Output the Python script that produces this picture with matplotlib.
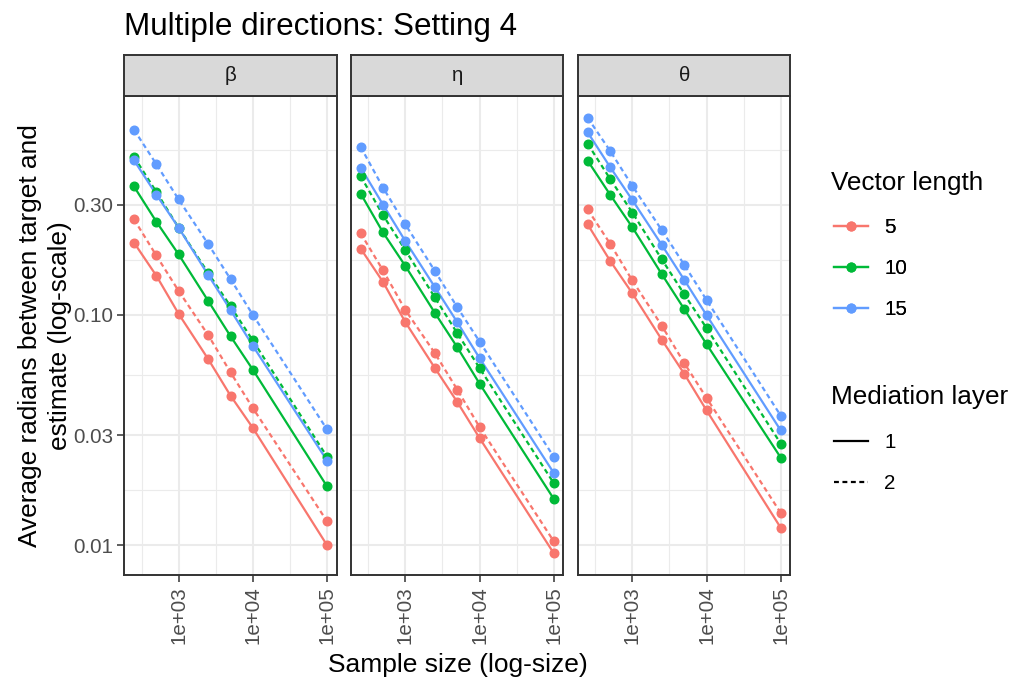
import numpy as np
import matplotlib
matplotlib.use("Agg")
import matplotlib.pyplot as plt
from matplotlib.lines import Line2D
from matplotlib.ticker import FixedLocator, NullFormatter

plt.rcParams['font.family'] = ['Liberation Sans', 'DejaVu Sans']

# ---------------- data ----------------
sample_sizes = [250, 500, 1000, 2500, 5000, 10000, 100000]
facets = ["β", "η", "θ"]
vector_lengths = ["5", "10", "15"]
layers = ["1", "2"]

# facet beta
beta_5_1 = [0.206, 0.148, 0.101, 0.0643, 0.0446, 0.0323, 0.0100]
beta_5_2 = [0.260, 0.181, 0.127, 0.0817, 0.0563, 0.0394, 0.0127]
beta_10_1 = [0.361, 0.254, 0.183, 0.115, 0.0808, 0.0578, 0.0180]
beta_10_2 = [0.486, 0.342, 0.239, 0.152, 0.109, 0.0774, 0.0242]
beta_15_1 = [0.469, 0.333, 0.239, 0.149, 0.105, 0.0734, 0.0233]
beta_15_2 = [0.637, 0.451, 0.317, 0.203, 0.143, 0.100, 0.0318]
# facet eta
eta_5_1 = [0.194, 0.139, 0.0930, 0.0588, 0.0419, 0.0292, 0.00923]
eta_5_2 = [0.226, 0.156, 0.105, 0.0682, 0.0474, 0.0326, 0.0104]
eta_10_1 = [0.336, 0.228, 0.163, 0.102, 0.0724, 0.0503, 0.0159]
eta_10_2 = [0.400, 0.271, 0.191, 0.119, 0.0833, 0.0588, 0.0186]
eta_15_1 = [0.436, 0.301, 0.209, 0.132, 0.0930, 0.0649, 0.0206]
eta_15_2 = [0.536, 0.357, 0.247, 0.155, 0.108, 0.0766, 0.0242]
# facet theta
theta_5_1 = [0.247, 0.172, 0.124, 0.0779, 0.0555, 0.0385, 0.0119]
theta_5_2 = [0.287, 0.204, 0.141, 0.0896, 0.0618, 0.0436, 0.0138]
theta_10_1 = [0.467, 0.333, 0.240, 0.150, 0.106, 0.0746, 0.0240]
theta_10_2 = [0.553, 0.390, 0.278, 0.174, 0.123, 0.0876, 0.0276]
theta_15_1 = [0.620, 0.439, 0.315, 0.201, 0.142, 0.0997, 0.0315]
theta_15_2 = [0.717, 0.516, 0.363, 0.233, 0.165, 0.116, 0.0365]

data = {
    "β": {("5", "1"): beta_5_1, ("5", "2"): beta_5_2,
          ("10", "1"): beta_10_1, ("10", "2"): beta_10_2,
          ("15", "1"): beta_15_1, ("15", "2"): beta_15_2},
    "η": {("5", "1"): eta_5_1, ("5", "2"): eta_5_2,
          ("10", "1"): eta_10_1, ("10", "2"): eta_10_2,
          ("15", "1"): eta_15_1, ("15", "2"): eta_15_2},
    "θ": {("5", "1"): theta_5_1, ("5", "2"): theta_5_2,
          ("10", "1"): theta_10_1, ("10", "2"): theta_10_2,
          ("15", "1"): theta_15_1, ("15", "2"): theta_15_2},
}

y_ticks = [0.01, 0.03, 0.10, 0.30]
y_ticklabels = ["0.01", "0.03", "0.10", "0.30"]
x_ticks = [1e3, 1e4, 1e5]
x_ticklabels = ["1e+03", "1e+04", "1e+05"]

title = "Multiple directions: Setting 4"
xlabel = "Sample size (log-size)"
ylabel_l1 = "Average radians between target and"
ylabel_l2 = "estimate (log-scale)"
legend1_title = "Vector length"
legend2_title = "Mediation layer"

# ---------------- style ----------------
colors = {"5": "#F8766D", "10": "#00BA38", "15": "#619CFF"}
dash = {"1": "-", "2": (0, (2.2, 1.6))}
W, H = 1013, 684
DPI = 100
GRID = "#EBEBEB"
DARK = "#333333"

fig = plt.figure(figsize=(W / DPI, H / DPI), dpi=DPI)
fig.patch.set_facecolor("white")

def fx(px):
    return px / W

def fy(py):
    return 1 - py / H

panel_left = [124.3, 351.0, 578.0]
panel_w = 212.4
panel_top, panel_bot = 96.0, 575.0
strip_top = 55.0

# limits with 5% expansion in log space
all_vals = np.concatenate([np.array(v) for f in data.values() for v in f.values()])
ly0, ly1 = np.log10(all_vals.min()), np.log10(all_vals.max())
pad = 0.05 * (ly1 - ly0)
ylim = (10 ** (ly0 - pad), 10 ** (ly1 + pad))
lx0, lx1 = np.log10(min(sample_sizes)), np.log10(max(sample_sizes))
padx = 0.05 * (lx1 - lx0)
xlim = (10 ** (lx0 - padx), 10 ** (lx1 + padx))

y_minor = [10 ** -0.2845, 10 ** -0.7615, 10 ** -1.2615, 10 ** -1.7615]
x_minor = [10 ** 2.5, 10 ** 3.5, 10 ** 4.5]

for i, fac in enumerate(facets):
    ax = fig.add_axes([fx(panel_left[i]), fy(panel_bot), panel_w / W,
                       (panel_bot - panel_top) / H])
    ax.set_xscale("log")
    ax.set_yscale("log")
    ax.set_xlim(*xlim)
    ax.set_ylim(*ylim)
    ax.set_facecolor("white")
    ax.xaxis.set_major_locator(FixedLocator(x_ticks))
    ax.xaxis.set_minor_locator(FixedLocator(x_minor))
    ax.yaxis.set_major_locator(FixedLocator(y_ticks))
    ax.yaxis.set_minor_locator(FixedLocator(y_minor))
    ax.xaxis.set_minor_formatter(NullFormatter())
    ax.yaxis.set_minor_formatter(NullFormatter())
    ax.set_xticklabels(x_ticklabels, rotation=90)
    if i == 0:
        ax.set_yticklabels(y_ticklabels)
    else:
        ax.set_yticklabels([])
    ax.tick_params(which="major", length=5, width=1.1, color=DARK,
                   labelsize=14.8, labelcolor="#4D4D4D", pad=3)
    ax.tick_params(axis="y", which="major", length=5 if i == 0 else 0)
    ax.tick_params(which="minor", length=0)
    ax.grid(which="major", color=GRID, linewidth=1.5)
    ax.grid(which="minor", color=GRID, linewidth=0.8)
    ax.set_axisbelow(True)
    for s in ax.spines.values():
        s.set_color(DARK)
        s.set_linewidth(1.4)

    for vl in vector_lengths:
        for ly in layers:
            vals = data[fac][(vl, ly)]
            ax.plot(sample_sizes, vals, color=colors[vl], linestyle=dash[ly],
                    linewidth=1.6, zorder=3)
    for vl in vector_lengths:
        for ly in layers:
            vals = data[fac][(vl, ly)]
            ax.plot(sample_sizes, vals, linestyle="none", marker="o",
                    markersize=6.2, color=colors[vl], zorder=4)

    # strip
    sax = fig.add_axes([fx(panel_left[i]), fy(panel_top), panel_w / W,
                        (panel_top - strip_top) / H])
    sax.set_xticks([])
    sax.set_yticks([])
    sax.set_facecolor("#D9D9D9")
    for s in sax.spines.values():
        s.set_color(DARK)
        s.set_linewidth(1.4)
    sax.text(0.5, 0.5, fac, ha="center", va="center", fontsize=14.8,
             color="#1A1A1A", transform=sax.transAxes)

# titles and labels
fig.text(fx(124), fy(35.5), title, fontsize=22.6, color="black",
         ha="left", va="baseline")
fig.text(fx(457.5), fy(672.3), xlabel, fontsize=19, color="black",
         ha="center", va="baseline")
fig.text(fx(37), fy(335.5), ylabel_l1, fontsize=18.9, rotation=90,
         rotation_mode="anchor", ha="center", va="baseline")
fig.text(fx(67), fy(335.5), ylabel_l2, fontsize=18.9, rotation=90,
         rotation_mode="anchor", ha="center", va="baseline")

# legends
fig.text(fx(831), fy(190), legend1_title, fontsize=18.8, color="black",
         ha="left", va="baseline")
fig.text(fx(831), fy(404.3), legend2_title, fontsize=18.8, color="black",
         ha="left", va="baseline")
h_len = [Line2D([], [], color=colors[v], linewidth=1.6, marker="o",
                markersize=6.2) for v in vector_lengths]
h_lay = [Line2D([], [], color="black", linewidth=1.6, linestyle=dash[l])
         for l in layers]
leg_kw = dict(frameon=False, fontsize=14.8, handlelength=1.64,
              handletextpad=0.8, labelspacing=1.063, borderpad=0,
              borderaxespad=0, loc="center left")
leg1 = fig.legend(h_len, vector_lengths,
                  bbox_to_anchor=(fx(834), fy(268.7)), **leg_kw)
leg2 = fig.legend(h_lay, layers,
                  bbox_to_anchor=(fx(834), fy(463)), **leg_kw)
fig.add_artist(leg1)

fig.savefig("out.png", dpi=DPI)
